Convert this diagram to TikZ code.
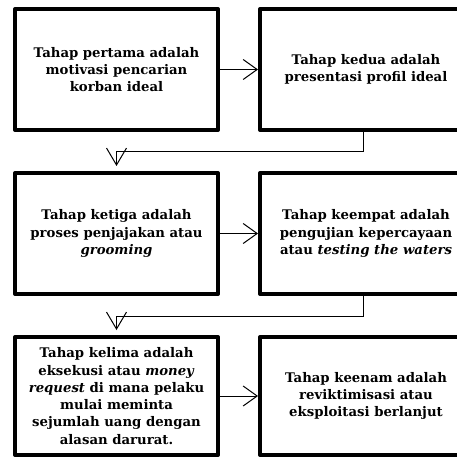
\documentclass[tikz,border=0pt]{standalone}
\usepackage{fontspec}
\setmainfont{DejaVu Serif}
\usetikzlibrary{positioning, arrows.meta}

\begin{document}
\begin{tikzpicture}[x=1bp, y=-1bp,
        tahap/.style={rectangle, draw, line width=4bp, line join=round, minimum width=203bp, minimum height=121bp,
                      align=center, inner sep=0pt, font=\bfseries\fontsize{13.3}{17.3}\selectfont},
        tahapkanan/.style={tahap, minimum width=212bp},
        arrow/.style={-{Straight Barb[length=14bp, width=20bp]}, line width=1bp},
        turun/.style={-{Straight Barb[length=17bp, width=20bp]}, line width=1bp, shorten >=5bp},
    ]
        \useasboundingbox (0,0) rectangle (457,459);
        \clip (0,0) rectangle (457,459);

        % ====== baris 1 ======
        \node[tahap] (t1) at (116.5,69.5) {Tahap pertama adalah\\motivasi pencarian\\korban ideal};
        \node[tahapkanan, right=38bp of t1] (t2) {Tahap kedua adalah\\presentasi profil ideal};

        % ====== baris 2 ======
        \node[tahap, below=39bp of t1] (t3) {Tahap ketiga adalah\\proses penjajakan atau\\\textit{grooming}};
        \node[tahapkanan, right=38bp of t3] (t4) {Tahap keempat adalah\\pengujian kepercayaan\\atau \textit{testing the waters}};

        % ====== baris 3 ======
        \node[tahap, minimum height=118bp, below=39bp of t3] (t5) {Tahap kelima adalah\\eksekusi atau \textit{money}\\\textit{request} di mana pelaku\\mulai meminta\\sejumlah uang dengan\\alasan darurat.};
        \node[tahapkanan, minimum height=118bp, right=38bp of t5] (t6) {Tahap keenam adalah\\reviktimisasi atau\\eksploitasi berlanjut};

        % ====== panah ======
        \draw[arrow] (t1.east) -- (t2.west);
        \draw[arrow] (t3.east) -- (t4.west);
        \draw[arrow] (t5.east) -- (t6.west);

        % sambungan antar baris
        \draw[turun] ([xshift=-3bp]t2.south) -- ++(0,20) -| (t3.north);
        \draw[turun] ([xshift=-3bp]t4.south) -- ++(0,20) -| (t5.north);
    \end{tikzpicture}
\end{document}
